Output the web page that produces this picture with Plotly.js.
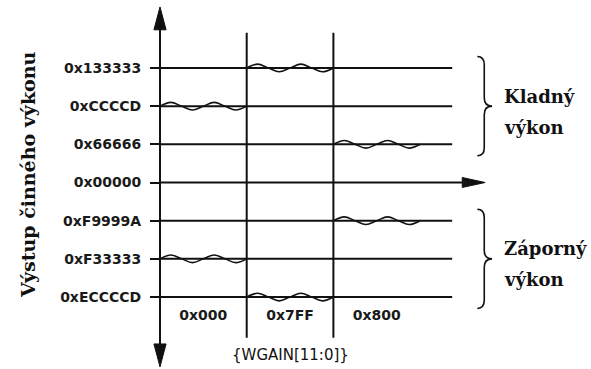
<!DOCTYPE html>
<html>
<head>
<meta charset="utf-8">
<script src="https://cdn.plot.ly/plotly-3.0.1.min.js"></script>
<style>
html,body{margin:0;padding:0;background:#fff;}
#chart{width:591px;height:369px;}
</style>
</head>
<body>
<div id="chart"></div>
<script>
// ---- data ----
const levelValues = [3, 2, 1, 0, -1, -2, -3];
const levelLabels = ['0x133333', '0xCCCCD', '0x66666', '0x00000', '0xF9999A', '0xF33333', '0xECCCCD'];
const gainLabels = ['0x000', '0x7FF', '0x800'];
const positiveLevel = [2, 3, 1];
const negativeLevel = [-2, -3, -1];
const ripple = [0, 0.1, 0, -0.1, 0, 0.1, 0, -0.1, 0];
const yTitle = 'Výstup činného výkonu';
const xTitle = '{WGAIN[11:0]}';
const posGroup = ['Kladný', 'výkon'];
const negGroup = ['Záporný', 'výkon'];

// ---- geometry (axis units) ----
const nCols = gainLabels.length;
const lineEnd = 3.37, zeroEnd = 3.5, arrowTipX = 3.75;
const yTop = 4.6, yBottom = -4.83, headLen = 0.6, headHalfX = 0.07, headHalfY = 0.13;
const colTop = 3.92, colBottom = -4.07;

const ink = '#111';
const traces = [];

// level lines
const hx = [], hy = [];
levelValues.forEach(v => {
  hx.push(0, v === 0 ? zeroEnd : lineEnd, null);
  hy.push(v, v, null);
});
traces.push({x: hx, y: hy, mode: 'lines', line: {color: ink, width: 2}, hoverinfo: 'skip'});

// vertical lines
const vx = [0, 0, null], vy = [yTop - headLen + 0.05, yBottom + headLen - 0.05, null];
for (let i = 1; i < nCols; i++) { vx.push(i, i, null); vy.push(colTop, colBottom, null); }
traces.push({x: vx, y: vy, mode: 'lines', line: {color: ink, width: 2}, hoverinfo: 'skip'});

// arrow heads (one filled trace each)
const heads = [
  {x: [-headHalfX, 0, headHalfX, -headHalfX], y: [yTop - headLen, yTop, yTop - headLen, yTop - headLen]},
  {x: [-headHalfX, 0, headHalfX, -headHalfX], y: [yBottom + headLen, yBottom, yBottom + headLen, yBottom + headLen]},
  {x: [arrowTipX - headLen * 0.44, arrowTipX, arrowTipX - headLen * 0.44, arrowTipX - headLen * 0.44], y: [headHalfY, 0, -headHalfY, headHalfY]}
];
heads.forEach(h => traces.push({x: h.x, y: h.y, mode: 'lines', fill: 'toself', fillcolor: ink,
  line: {color: ink, width: 1}, hoverinfo: 'skip'}));

// ripples
const rx = [], ry = [];
for (let c = 0; c < nCols; c++) {
  [positiveLevel[c], negativeLevel[c]].forEach(lv => {
    ripple.forEach((r, j) => { rx.push(c + j / (ripple.length - 1)); ry.push(lv + r); });
    rx.push(null); ry.push(null);
  });
}
traces.push({x: rx, y: ry, mode: 'lines', line: {color: ink, width: 1.6, shape: 'spline', smoothing: 1}, hoverinfo: 'skip'});

// braces
function brace(top, bottom) {
  const x0 = 3.66, x1 = 3.74, x2 = 3.83, r = 0.22;
  const c = (top + bottom) / 2;
  return `M${x0},${top} Q${x1},${top} ${x1},${top - r} L${x1},${c + r} Q${x1},${c} ${x2},${c} ` +
         `Q${x1},${c} ${x1},${c - r} L${x1},${bottom + r} Q${x1},${bottom} ${x0},${bottom}`;
}
const posLv = levelValues.filter(v => v > 0), negLv = levelValues.filter(v => v < 0);
const shapes = [
  {type: 'path', xref: 'x', yref: 'y', path: brace(Math.max(...posLv) + 0.3, Math.min(...posLv) - 0.3), line: {color: ink, width: 1.6}},
  {type: 'path', xref: 'x', yref: 'y', path: brace(Math.max(...negLv) + 0.3, Math.min(...negLv) - 0.3), line: {color: ink, width: 1.6}}
];

const serifTitle = {family: 'DejaVu Serif', size: 19, color: ink};
const serifSide = {family: 'DejaVu Serif', size: 18, color: ink};
function sideLabel(text, y) {
  return {xref: 'x', yref: 'y', x: 3.94, y: y, text: '<b>' + text + '</b>', align: 'left', showarrow: false,
          xanchor: 'left', yanchor: 'middle', font: serifSide};
}
const posMid = (Math.max(...posLv) + Math.min(...posLv)) / 2;
const negMid = (Math.max(...negLv) + Math.min(...negLv)) / 2;
const annotations = [
  {xref: 'paper', yref: 'paper', x: (28 - 140) / 451, y: 1 - 175 / 369, text: '<b>' + yTitle + '</b>', textangle: -90,
   showarrow: false, xanchor: 'center', yanchor: 'middle', font: serifTitle},
  sideLabel(posGroup[0], posMid + 0.24), sideLabel(posGroup[1], posMid - 0.57),
  sideLabel(negGroup[0], negMid + 0.26), sideLabel(negGroup[1], negMid - 0.55),
  {xref: 'x', yref: 'paper', x: (nCols) / 2, y: 1 - 355 / 369, text: xTitle, showarrow: false,
   xanchor: 'center', yanchor: 'middle', font: {family: 'DejaVu Sans', size: 15, color: ink}}
];

const tickFont = {family: 'DejaVu Sans', size: 14, color: '#1a1a1a', weight: 'bold'};
const layout = {
  width: 591, height: 369,
  margin: {l: 140, r: 0, t: 0, b: 0},
  paper_bgcolor: '#fff', plot_bgcolor: '#fff',
  showlegend: false,
  xaxis: {range: [-20 / 86.7, 451 / 86.7 - 20 / 86.7], anchor: 'free', position: 1 - 305 / 369,
          tickvals: gainLabels.map((_, i) => i + 0.5), ticktext: gainLabels,
          showgrid: false, zeroline: false, showline: false, ticks: '', tickfont: tickFont, fixedrange: true},
  yaxis: {range: [-4.886, 4.781], anchor: 'free', position: 20 / 451, tickvals: levelValues, ticktext: levelLabels,
          ticks: 'outside', ticklen: 10, tickwidth: 2, tickcolor: ink, ticklabelstandoff: 6,
          showgrid: false, zeroline: false, showline: false, tickfont: tickFont, fixedrange: true},
  shapes: shapes,
  annotations: annotations
};

Plotly.newPlot('chart', traces, layout, {staticPlot: true, displayModeBar: false});
</script>
</body>
</html>
